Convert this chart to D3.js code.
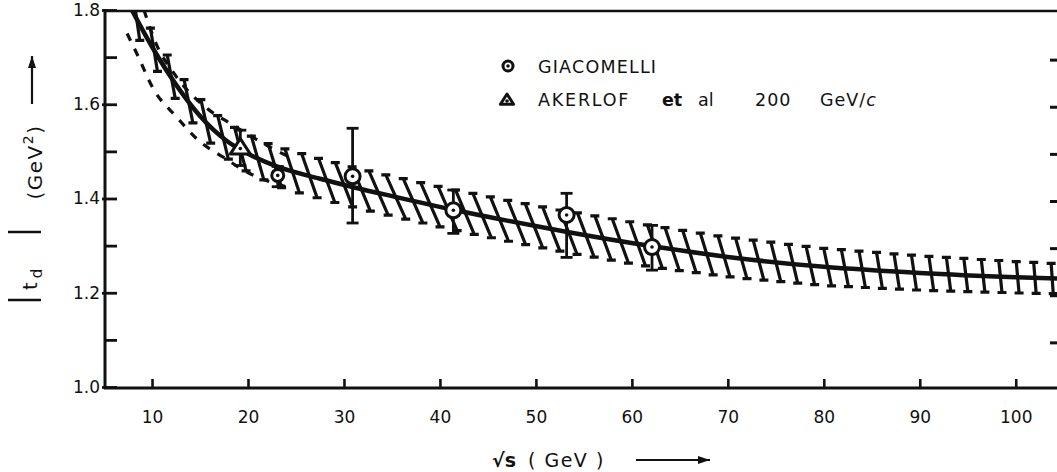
<!DOCTYPE html>
<html>
<head>
<meta charset="utf-8">
<script src="https://cdn.jsdelivr.net/npm/d3@7"></script>
<style>
body { margin: 0; background: #fff; }
svg { display: block; }
text { font-family: "DejaVu Sans", sans-serif; fill: #111; }
</style>
</head>
<body>
<div id="canvas"></div>
<script>
// Curva central |t_d| vs sqrt(s)
const curveS = [7.9, 10, 12.9, 15, 17.8, 20, 23, 27.5, 31, 35, 41.4, 47, 53, 62, 70, 80, 90, 100, 104.3];
const curveT = [1.80, 1.722, 1.630, 1.575, 1.522, 1.495, 1.468, 1.442, 1.424, 1.405, 1.376, 1.353, 1.330, 1.299, 1.276, 1.255, 1.242, 1.233, 1.230];

// Curvas punteadas (solo a bajas energias)
const upperDashS = [9.16, 10.5, 12.2, 16.0, 18.1, 22.3, 24.4];
const upperDashT = [1.80, 1.725, 1.668, 1.587, 1.56, 1.509, 1.487];
const lowerDashS = [7.4, 8.5, 10.1, 12.6, 14.8, 17.4, 19.9, 24.1];
const lowerDashT = [1.75, 1.704, 1.634, 1.572, 1.524, 1.488, 1.456, 1.424];

// Semi-ancho de la banda rayada
const bandS = [8, 15, 30, 60, 80, 104.3];
const bandHalf = [0.046, 0.046, 0.047, 0.047, 0.04, 0.032];

// Datos GIACOMELLI
const giacS = [23.1, 30.9, 41.4, 53.2, 62.1];
const giacT = [1.449, 1.447, 1.375, 1.365, 1.297];
const giacLo = [1.425, 1.348, 1.326, 1.275, 1.248];
const giacHi = [1.468, 1.549, 1.418, 1.411, 1.343];

// Datos AKERLOF et al
const akerS = [19.2];
const akerT = [1.508];
const akerLo = [1.47];
const akerHi = [1.545];

// Ticks
const xTicks = [10, 20, 30, 40, 50, 60, 70, 80, 90, 100];
const yTicks = [1.0, 1.1, 1.2, 1.3, 1.4, 1.5, 1.6, 1.7, 1.8];
const yLabels = [1.0, 1.2, 1.4, 1.6, 1.8];

const width = 1057;
const height = 472;

const svg = d3.select("#canvas").append("svg")
    .attr("width", width)
    .attr("height", height);

const x = d3.scaleLinear().domain([5.1, 104.3]).range([105, 1057]);
const y = d3.scaleLinear().domain([1.0, 1.8]).range([387, 10]);

const defs = svg.append("defs");
defs.append("clipPath").attr("id", "plot")
    .append("rect").attr("x", 106).attr("y", 12).attr("width", 951).attr("height", 374);
defs.append("marker")
    .attr("id", "arrow")
    .attr("viewBox", "0 0 12 8")
    .attr("refX", 12).attr("refY", 4)
    .attr("markerWidth", 12).attr("markerHeight", 8)
    .attr("markerUnits", "userSpaceOnUse")
    .attr("orient", "auto")
    .append("path").attr("d", "M0,0 L12,4 L0,8 z").attr("fill", "#111");

const plot = svg.append("g").attr("clip-path", "url(#plot)");

// Banda rayada
const centerAt = d3.scaleLinear().domain(curveS).range(curveT).clamp(true);
const halfAt = d3.scaleLinear().domain(bandS).range(bandHalf).clamp(true);
const slantAt = d3.scaleLinear().domain([8, 20, 35, 60, 85, 104.3]).range([3, 6, 10, 8, 3, 1]).clamp(true);
const hatchStep = 1.8;

plot.append("g").selectAll("path")
    .data(d3.range(8.4, 105, hatchStep))
    .join("path")
    .attr("d", s => {
        const px = x(s), dx = slantAt(s);
        const yT = y(centerAt(s) + halfAt(s)), yB = y(centerAt(s) - halfAt(s));
        return `M${px - dx},${yT} L${px + dx},${yB} M${px - dx - 4.5},${yT} h9 M${px + dx - 4.5},${yB} h9`;
    })
    .attr("fill", "none")
    .attr("stroke", "#111")
    .attr("stroke-width", 3.2);

// Curvas punteadas
const dashLine = d3.line().x(d => x(d[0])).y(d => y(d[1])).curve(d3.curveMonotoneX);
[[upperDashS, upperDashT], [lowerDashS, lowerDashT]].forEach(([ss, ts]) => {
    plot.append("path")
        .attr("d", dashLine(d3.zip(ss, ts)))
        .attr("fill", "none")
        .attr("stroke", "#111")
        .attr("stroke-width", 3.2)
        .attr("stroke-dasharray", "8 9");
});

// Curva central
plot.append("path")
    .attr("d", dashLine(d3.zip(curveS, curveT)))
    .attr("fill", "none")
    .attr("stroke", "#111")
    .attr("stroke-width", 4.5);

// Barras de error
function errorBars(ss, lo, hi) {
    const g = svg.append("g").attr("stroke", "#111").attr("stroke-width", 2.8);
    ss.forEach((s, i) => {
        g.append("line").attr("x1", x(s)).attr("x2", x(s)).attr("y1", y(lo[i])).attr("y2", y(hi[i]));
        g.append("line").attr("x1", x(s) - 6).attr("x2", x(s) + 6).attr("y1", y(lo[i])).attr("y2", y(lo[i]));
        g.append("line").attr("x1", x(s) - 6).attr("x2", x(s) + 6).attr("y1", y(hi[i])).attr("y2", y(hi[i]));
    });
}
errorBars(giacS, giacLo, giacHi);
errorBars(akerS, akerLo, akerHi);

function circleMark(g, cx, cy, r) {
    g.append("circle").attr("cx", cx).attr("cy", cy).attr("r", r)
        .attr("fill", "#fff").attr("stroke", "#111").attr("stroke-width", 3);
    g.append("circle").attr("cx", cx).attr("cy", cy).attr("r", 1.8).attr("fill", "#111");
}
function triMark(g, cx, cy, a) {
    g.append("path")
        .attr("d", `M${cx},${cy - a} L${cx + a * 1.1},${cy + a * 0.7} L${cx - a * 1.1},${cy + a * 0.7} Z`)
        .attr("fill", "#fff").attr("stroke", "#111").attr("stroke-width", 3).attr("stroke-linejoin", "round");
    g.append("circle").attr("cx", cx).attr("cy", cy + 1).attr("r", 1.8).attr("fill", "#111");
}

const marks = svg.append("g");
giacS.forEach((s, i) => circleMark(marks, x(s), y(giacT[i]), i === 0 ? 6 : 7.5));
akerS.forEach((s, i) => triMark(marks, x(s), y(akerT[i]), 9));

// Ejes
const yAxis = svg.append("g")
    .attr("transform", "translate(105,0)")
    .call(d3.axisLeft(y).tickValues(yTicks).tickSize(-12).tickSizeOuter(0).tickPadding(5)
        .tickFormat(d => yLabels.some(v => Math.abs(v - d) < 1e-6) ? d3.format(".1f")(d) : ""));
yAxis.select(".domain").remove();
yAxis.selectAll(".tick line").attr("stroke", "#111").attr("stroke-width", 2.8)
    .attr("x1", d => yLabels.some(v => Math.abs(v - d) < 1e-6) ? -3 : 0);
yAxis.selectAll(".tick text").attr("font-family", "DejaVu Sans").attr("font-size", 17).attr("fill", "#111");

const xAxis = svg.append("g")
    .attr("transform", "translate(0,388)")
    .call(d3.axisBottom(x).tickValues(xTicks).tickSize(-9).tickSizeOuter(0).tickPadding(23));
xAxis.select(".domain").remove();
xAxis.selectAll(".tick line").attr("stroke", "#111").attr("stroke-width", 2.6);
xAxis.selectAll(".tick text").attr("font-family", "DejaVu Sans").attr("font-size", 17).attr("fill", "#111");

// Marco: izquierda, abajo, arriba y ticks de la derecha
const frame = svg.append("g").attr("stroke", "#111");
frame.append("line").attr("x1", 105).attr("x2", 105).attr("y1", 9).attr("y2", 389).attr("stroke-width", 3);
frame.append("line").attr("x1", 104).attr("x2", 1057).attr("y1", 388).attr("y2", 388).attr("stroke-width", 3);
frame.append("line").attr("x1", 104).attr("x2", 1057).attr("y1", 11).attr("y2", 11).attr("stroke-width", 2.5);
frame.selectAll(".rt").data(yTicks.slice(1, -1)).join("line")
    .attr("x1", 1050).attr("x2", 1057)
    .attr("y1", d => y(d) + 3).attr("y2", d => y(d) + 3)
    .attr("stroke-width", 3);

// Leyenda
const legend = svg.append("g").attr("font-size", 17.5);
circleMark(legend, 508, 66, 5);
legend.append("text").attr("x", 538).attr("y", 73).attr("letter-spacing", 1.2).text("GIACOMELLI");
triMark(legend, 507, 100, 6);
legend.append("text").attr("x", 538).attr("y", 106).attr("letter-spacing", 1.8).text("AKERLOF");
legend.append("text").attr("x", 662).attr("y", 106).attr("font-weight", "bold").text("et");
legend.append("text").attr("x", 698).attr("y", 106).text("al");
legend.append("text").attr("x", 755).attr("y", 106).attr("letter-spacing", 1).text("200");
const gev = legend.append("text").attr("x", 820).attr("y", 106).attr("letter-spacing", 1);
gev.append("tspan").text("GeV/");
gev.append("tspan").attr("font-style", "italic").text("c");

// Titulo eje x
const xt = svg.append("g").attr("font-size", 19);
xt.append("text").attr("x", 492).attr("y", 467).attr("font-weight", "bold").text("√s");
xt.append("text").attr("x", 528).attr("y", 467).attr("letter-spacing", 1.5).text("( GeV )");
xt.append("line").attr("x1", 636).attr("x2", 710).attr("y1", 460).attr("y2", 460)
    .attr("stroke", "#111").attr("stroke-width", 2.2).attr("marker-end", "url(#arrow)");

// Titulo eje y
const yt = svg.append("g");
yt.append("line").attr("x1", 32).attr("x2", 32).attr("y1", 104).attr("y2", 56)
    .attr("stroke", "#111").attr("stroke-width", 2.2).attr("marker-end", "url(#arrow)");
const gevY = yt.append("text").attr("transform", "translate(42,162) rotate(-90)")
    .attr("text-anchor", "middle").attr("font-size", 20).attr("letter-spacing", 1.5);
gevY.append("tspan").text("(GeV");
gevY.append("tspan").attr("font-size", 14).attr("dy", -9).text("2");
gevY.append("tspan").attr("dy", 9).text(")");
yt.append("line").attr("x1", 8).attr("x2", 41).attr("y1", 232).attr("y2", 232).attr("stroke", "#111").attr("stroke-width", 2.5);
yt.append("line").attr("x1", 8).attr("x2", 41).attr("y1", 300).attr("y2", 300).attr("stroke", "#111").attr("stroke-width", 2.5);
const td = yt.append("text").attr("transform", "translate(37,290) rotate(-90)").attr("font-size", 20);
td.append("tspan").text("t");
td.append("tspan").attr("font-size", 15).attr("dx", 4).attr("dy", 5).text("d");
</script>
</body>
</html>
